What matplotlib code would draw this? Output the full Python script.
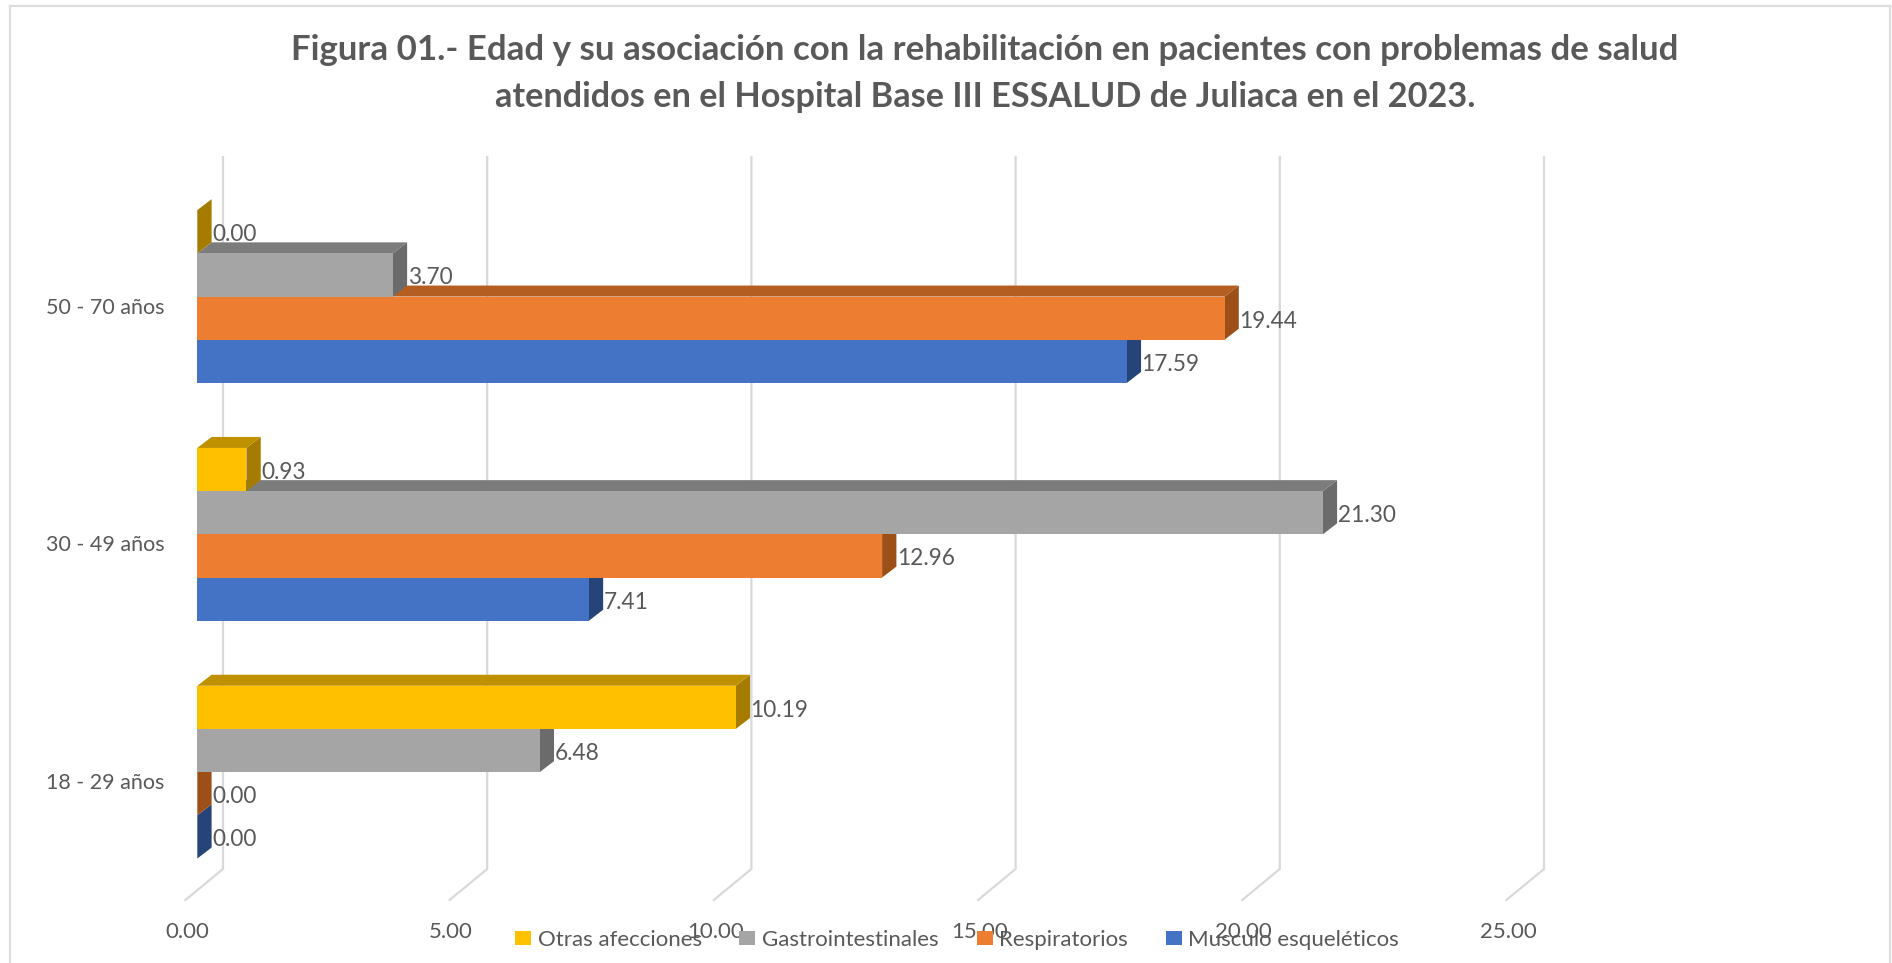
import matplotlib
matplotlib.use("Agg")
import matplotlib.pyplot as plt
from matplotlib.lines import Line2D
from matplotlib.patches import Patch
from matplotlib.transforms import ScaledTranslation, offset_copy

categories = ["18 - 29 años", "30 - 49 años", "50 - 70 años"]
musculo = [0.00, 7.41, 17.59]
respiratorios = [0.00, 12.96, 19.44]
gastro = [6.48, 21.30, 3.70]
otras = [10.19, 0.93, 0.00]
series_names = ["Musculo esqueléticos", "Respiratorios", "Gastrointestinales", "Otras afecciones"]
series_values = [musculo, respiratorios, gastro, otras]
front_colors = ["#4472C4", "#ED7D31", "#A5A5A5", "#FFC000"]
top_colors = ["#335593", "#B55E22", "#7C7C7C", "#BF9000"]
side_colors = ["#264478", "#9C5018", "#6B6B6B", "#A67C00"]
ticks = [0, 5, 10, 15, 20, 25]
tick_labels = ["0.00", "5.00", "10.00", "15.00", "20.00", "25.00"]

TITLE_1 = "Figura 01.- Edad y su asociación con la rehabilitación en pacientes con problemas de salud"
TITLE_2 = "atendidos en el Hospital Base III ESSALUD de Juliaca en el 2023."
FONT = "Lato"
TXT = "#595959"
GRID = "#D9D9D9"

W, H = 1892, 963
plt.rcParams["font.family"] = [FONT, "DejaVu Sans"]
fig = plt.figure(figsize=(W / 100, H / 100), dpi=100, facecolor="white")

# pixel geometry of the plot box
PX_X0, PX_PER_UNIT = 197.3, 52.84
PX_TOP, PX_BOTTOM = 157.0, 900.0
PX_RIGHT = 1560.0
PX_GROUP, PX_G0 = 237.8, 772.15
ax = fig.add_axes([PX_X0 / W, 1 - PX_BOTTOM / H, (PX_RIGHT - PX_X0) / W, (PX_BOTTOM - PX_TOP) / H])
ax.set_xlim(0, (PX_RIGHT - PX_X0) / PX_PER_UNIT)
ax.set_ylim((PX_G0 - PX_BOTTOM) / PX_GROUP, (PX_G0 - PX_TOP) / PX_GROUP)
ax.patch.set_alpha(0)
for s in ax.spines.values():
    s.set_visible(False)

# 3-D offsets in data units
dx = 14.3 / PX_PER_UNIT
dy = 11.0 / PX_GROUP
bar_h = 43.2 / PX_GROUP
wall_dx = (223.0 - PX_X0) / PX_PER_UNIT
front_dx = (185.4 - PX_X0) / PX_PER_UNIT
floor_y = (PX_G0 - 869.0) / PX_GROUP
y_bottom = (PX_G0 - PX_BOTTOM) / PX_GROUP
y_top = (PX_G0 - PX_TOP) / PX_GROUP

for t in ticks:
    ax.plot([t + front_dx, t + wall_dx, t + wall_dx], [y_bottom, floor_y, y_top],
            color=GRID, lw=1.6, zorder=1, clip_on=False, solid_joinstyle="miter")

for k, (vals, fc, tc, sc) in enumerate(zip(series_values, front_colors, top_colors, side_colors)):
    z = 2 + k
    for i, v in enumerate(vals):
        y0 = i + (k - 2) * bar_h
        y1 = y0 + bar_h
        ax.fill([v, v + dx, v + dx, v], [y0, y0 + dy, y1 + dy, y1], color=sc, lw=0, zorder=z)
        if v > 0:
            ax.fill([0, dx, v + dx, v], [y1, y1 + dy, y1 + dy, y1], color=tc, lw=0, zorder=z)
    ax.barh([i + (k - 1.5) * bar_h for i in range(len(vals))], vals, height=bar_h,
            color=fc, lw=0, zorder=z + 0.5)

label_tf = offset_copy(ax.transData, fig=fig, x=(14.3 + 0.5) * 0.72, y=-3 * 0.72, units="points")
for k, vals in enumerate(series_values):
    for i, v in enumerate(vals):
        ax.text(v, i + (k - 1.5) * bar_h, f"{v:.2f}", transform=label_tf, ha="left", va="center",
                fontsize=16.3, color=TXT, zorder=20)

ax.set_xticks(ticks, tick_labels)
ax.set_yticks(range(len(categories)), categories)
ax.tick_params(axis="both", length=0, labelcolor=TXT)
ax.tick_params(axis="x", pad=15.5, labelsize=16)
ax.tick_params(axis="y", pad=33 * 0.72, labelsize=15.5)
shift_x = ScaledTranslation(-10.3 / 100, 0, fig.dpi_scale_trans)
for lab in ax.get_xticklabels():
    lab.set_transform(lab.get_transform() + shift_x)
shift_y = ScaledTranslation(0, -9 / 100, fig.dpi_scale_trans)
for lab in ax.get_yticklabels():
    lab.set_transform(lab.get_transform() + shift_y)

handles = [Patch(facecolor=c, edgecolor="none") for c in front_colors[::-1]]
leg = fig.legend(handles, series_names[::-1], ncol=4, frameon=False, fontsize=16, labelcolor=TXT,
                 loc="center", bbox_to_anchor=(957 / W, 1 - 939.5 / H),
                 handlelength=0.72, handleheight=0.6, handletextpad=0.3, columnspacing=1.7,
                 borderpad=0, borderaxespad=0)
leg.set_zorder(30)

fig.text(985 / W, 1 - 50 / H, TITLE_1, ha="center", va="center", fontsize=25.1, fontweight="bold",
         color=TXT)
fig.text(985 / W, 1 - 97 / H, TITLE_2, ha="center", va="center", fontsize=24.7, fontweight="bold",
         color=TXT)

for xs, ys in [([10, 10], [6, 963]), ([10, 1890], [6, 6]), ([1890, 1890], [6, 963])]:
    fig.add_artist(Line2D([x / W for x in xs], [1 - y / H for y in ys], color="#DDDDDD", lw=1.6))

fig.savefig("out.png", dpi=100, facecolor="white")
